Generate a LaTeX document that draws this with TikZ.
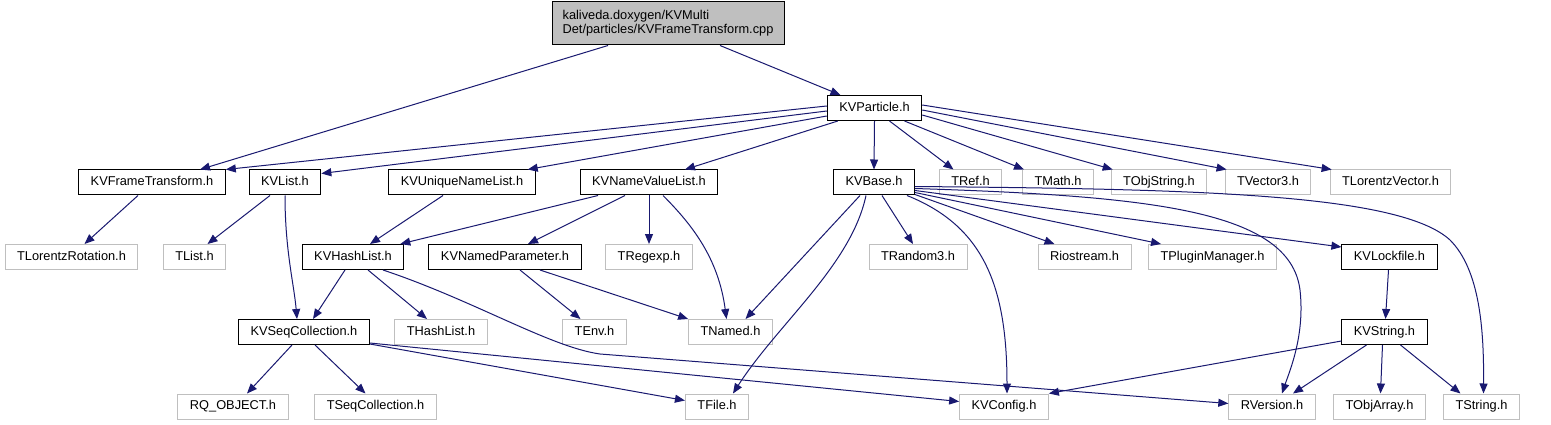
\documentclass[tikz,border=0pt]{standalone}
\usepackage{fontspec}
\setmainfont{Liberation Sans}
\usetikzlibrary{arrows.meta}
\definecolor{edgeblue}{HTML}{191970}
\definecolor{boxgrey}{HTML}{BFBFBF}
\newcommand{\boxfont}{\fontsize{12.8pt}{14pt}\selectfont}

\begin{document}
\begin{tikzpicture}[x=1pt,y=-1pt,line width=1pt,
                    kvfile/.style={draw=black,fill=white,font=\boxfont,
                                   inner xsep=12pt,inner ysep=0pt,minimum height=25pt,
                                   text height=9.3pt,text depth=2.7pt},
                    extfile/.style={kvfile,draw=boxgrey},
                    srcfile/.style={draw=black,fill=boxgrey,font=\boxfont,align=left,
                                    minimum width=232pt,minimum height=43pt,inner sep=0pt},
                    dep/.style={draw=edgeblue,-{Triangle[length=10pt,width=8pt]}}]
  \path[use as bounding box,fill=white] (0,0) rectangle (1551,425);
  \node[srcfile] (cpp) at (668,23.5) {kaliveda.doxygen/KVMulti\\Det/particles/KVFrameTransform.cpp};
  \node[kvfile] (particle) at (874.5,108) {KVParticle.h};
  \node[kvfile] (frametrans) at (152,182.5) {KVFrameTransform.h};
  \node[kvfile] (kvlist) at (285,182.5) {KVList.h};
  \node[kvfile] (uniquelist) at (462,182.5) {KVUniqueNameList.h};
  \node[kvfile] (namevalue) at (649,182.5) {KVNameValueList.h};
  \node[kvfile] (kvbase) at (874,182.5) {KVBase.h};
  \node[extfile] (tref) at (970.5,182.5) {TRef.h};
  \node[extfile] (tmath) at (1058,182.5) {TMath.h};
  \node[extfile] (tobjstring) at (1159,182.5) {TObjString.h};
  \node[extfile] (tvector) at (1268,182.5) {TVector3.h};
  \node[extfile] (tlorentzvec) at (1390.5,182.5) {TLorentzVector.h};
  \node[extfile] (lorentzrot) at (71.5,257) {TLorentzRotation.h};
  \node[extfile] (tlist) at (194.5,257) {TList.h};
  \node[kvfile] (hashlist) at (353,257) {KVHashList.h};
  \node[kvfile] (namedpar) at (505,257) {KVNamedParameter.h};
  \node[extfile] (tregexp) at (649,257) {TRegexp.h};
  \node[extfile] (trandom) at (918,257) {TRandom3.h};
  \node[extfile] (riostream) at (1084.5,257) {Riostream.h};
  \node[extfile] (tplugin) at (1212.5,257) {TPluginManager.h};
  \node[kvfile] (lockfile) at (1389.5,257) {KVLockfile.h};
  \node[kvfile] (seqcoll) at (304,332) {KVSeqCollection.h};
  \node[extfile] (thashlist) at (441,332) {THashList.h};
  \node[extfile] (tenv) at (594.5,332) {TEnv.h};
  \node[extfile] (tnamed) at (730.5,332) {TNamed.h};
  \node[kvfile] (kvstring) at (1384.5,332) {KVString.h};
  \node[extfile] (rqobject) at (233,406.5) {RQ\_OBJECT.h};
  \node[extfile] (tseqcoll) at (375.5,406.5) {TSeqCollection.h};
  \node[extfile] (tfile) at (717,406.5) {TFile.h};
  \node[extfile] (kvconfig) at (1004,406.5) {KVConfig.h};
  \node[extfile] (rversion) at (1272,406.5) {RVersion.h};
  \node[extfile] (tobjarray) at (1379.5,406.5) {TObjArray.h};
  \node[extfile] (tstring) at (1481.5,406.5) {TString.h};

  \draw[dep] ([xshift=-60pt]cpp.south) -- ([xshift=48pt]frametrans.north);
  \draw[dep] ([xshift=52pt]cpp.south) -- ([xshift=-34pt]particle.north);

  \draw[dep] ([yshift=2pt]particle.west) -- (frametrans.north east);
  \draw[dep] ([yshift=-3pt]particle.west) -- ([yshift=-4pt]kvlist.north east);
  \draw[dep] ([yshift=-8pt]particle.west) -- ([xshift=-8pt]uniquelist.north east);
  \draw[dep] ([xshift=11pt]particle.south west) -- ([xshift=36pt]namevalue.north);
  \draw[dep] (particle.south) -- (kvbase.north);
  \draw[dep] ([xshift=15pt]particle.south) -- ([xshift=-17pt]tref.north);
  \draw[dep] ([xshift=30pt]particle.south) -- ([xshift=2pt]tmath.north west);
  \draw[dep] ([yshift=-7pt]particle.east) -- ([xshift=2pt]tobjstring.north west);
  \draw[dep] ([yshift=-2pt]particle.east) -- ([xshift=2pt]tvector.north west);
  \draw[dep] ([yshift=3pt]particle.east) -- ([xshift=2pt]tlorentzvec.north west);

  \draw[dep] ([xshift=-14pt]frametrans.south) -- ([xshift=13pt]lorentzrot.north);
  \draw[dep] ([xshift=-15pt]kvlist.south) -- ([xshift=13pt]tlist.north);
  \draw[dep] (kvlist.south) .. controls +(0,55) and +(-3,-35) .. ([xshift=-7pt]seqcoll.north);
  \draw[dep] ([xshift=-19pt]uniquelist.south) -- ([xshift=17pt]hashlist.north);

  \draw[dep] ([xshift=-51pt]namevalue.south) -- ([xshift=-4pt]hashlist.north east);
  \draw[dep] ([xshift=-24pt]namevalue.south) -- ([xshift=23pt]namedpar.north);
  \draw[dep] (namevalue.south) -- (tregexp.north);
  \draw[dep] ([xshift=14pt]namevalue.south) .. controls +(30,30) and +(-8,-60) .. ([xshift=-4pt]tnamed.north);

  \draw[dep] ([xshift=-14pt]kvbase.south) -- ([xshift=15pt]tnamed.north);
  \draw[dep] ([xshift=-8pt]kvbase.south) .. controls +(-15,70) and +(45,-70) .. ([xshift=16pt]tfile.north);
  \draw[dep] ([xshift=8pt]kvbase.south) -- ([xshift=-5pt]trandom.north);
  \draw[dep] ([xshift=-8pt]kvbase.south east) .. controls +(75,30) and +(0,-110) .. ([xshift=3pt]kvconfig.north);
  \draw[dep] ([yshift=1pt]kvbase.south east) -- ([xshift=17pt]riostream.north west);
  \draw[dep] ([yshift=3pt]kvbase.south east) -- ([xshift=13pt]tplugin.north west);
  \draw[dep] ([yshift=5pt]kvbase.south east) -- ([yshift=-3pt]lockfile.north west);
  \draw[dep] ([yshift=7pt]kvbase.south east) .. controls (1150,196) and (1290,210) .. (1300,290)
             .. controls (1305,335) and (1290,370) .. ([xshift=10pt]rversion.north);
  \draw[dep] ([yshift=9pt]kvbase.south east) .. controls (1200,189) and (1400,194) .. (1450,240)
             .. controls (1480,270) and (1484,330) .. ([xshift=2pt]tstring.north);

  \draw[dep] ([xshift=-8pt]hashlist.south) -- ([xshift=9pt]seqcoll.north);
  \draw[dep] ([xshift=15pt]hashlist.south) -- ([xshift=-14pt]thashlist.north);
  \draw[dep] ([xshift=30pt]hashlist.south) .. controls +(90,30) and +(-50,-7) .. (600,354)
             -- ([yshift=3pt]rversion.west);
  \draw[dep] ([xshift=15pt]namedpar.south) -- ([xshift=-14pt]tenv.north);
  \draw[dep] ([xshift=35pt]namedpar.south) -- (tnamed.north west);

  \draw[dep] ([xshift=-12pt]seqcoll.south) -- ([xshift=14pt]rqobject.north);
  \draw[dep] ([xshift=11pt]seqcoll.south) -- ([xshift=-10pt]tseqcoll.north);
  \draw[dep] ([yshift=1pt]seqcoll.south east) -- ([yshift=6pt]tfile.west);
  \draw[dep] ([yshift=2pt]seqcoll.south east) -- ([yshift=5pt]kvconfig.west);

  \draw[dep] ([xshift=-1pt]lockfile.south) -- ([xshift=1pt]kvstring.north);
  \draw[dep] ([yshift=-9pt]kvstring.west) -- (kvconfig.north east);
  \draw[dep] ([xshift=-18pt]kvstring.south) -- ([xshift=21pt]rversion.north);
  \draw[dep] ([xshift=-2pt]kvstring.south) -- ([xshift=1pt]tobjarray.north);
  \draw[dep] ([xshift=16pt]kvstring.south) -- ([xshift=-21pt]tstring.north);
\end{tikzpicture}
\end{document}
